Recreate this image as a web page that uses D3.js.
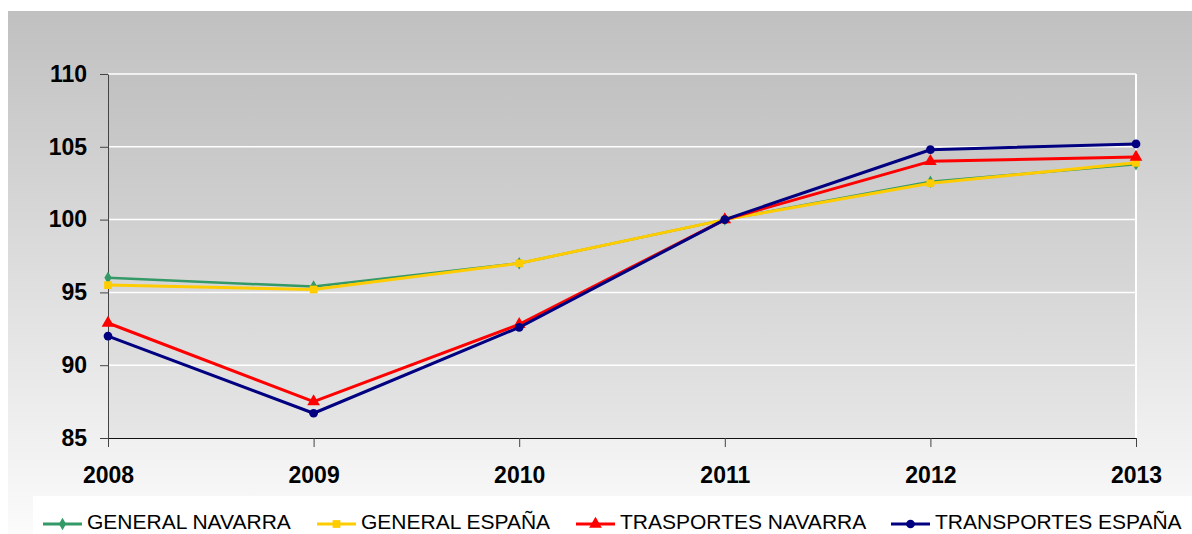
<!DOCTYPE html>
<html>
<head>
<meta charset="utf-8">
<script src="https://cdn.jsdelivr.net/npm/d3@7"></script>
<style>
  html, body { margin: 0; padding: 0; background: #fff; }
  svg { display: block; font-family: Arial, "Liberation Sans", sans-serif; }
</style>
</head>
<body>
<script>
// values
var years = ['2008', '2009', '2010', '2011', '2012', '2013'];
var yTicks = [85, 90, 95, 100, 105, 110];

var generalNavarra = [96.0, 95.4, 97.0, 100, 102.6, 103.8];
var generalEspana = [95.5, 95.2, 97.0, 100, 102.5, 103.9];
var trasportesNavarra = [92.9, 87.5, 92.8, 100, 104.0, 104.3];
var transportesEspana = [92.0, 86.7, 92.6, 100, 104.8, 105.2];

var seriesNames = ['GENERAL NAVARRA', 'GENERAL ESPAÑA', 'TRASPORTES NAVARRA', 'TRANSPORTES ESPAÑA'];

var series = [
  { name: seriesNames[0], values: generalNavarra, color: '#339966', width: 2.5, symbol: d3.symbolDiamond, size: 45 },
  { name: seriesNames[1], values: generalEspana, color: '#ffcc00', width: 3, symbol: d3.symbolSquare, size: 60 },
  { name: seriesNames[2], values: trasportesNavarra, color: '#ff0000', width: 3, symbol: d3.symbolTriangle, size: 70 },
  { name: seriesNames[3], values: transportesEspana, color: '#000080', width: 3, symbol: d3.symbolCircle, size: 60 }
];

var width = 1192, height = 534;
var plot = { left: 108, right: 1136, top: 74, bottom: 438 };

var svg = d3.select('body').append('svg')
  .attr('width', width)
  .attr('height', height);

var defs = svg.append('defs');
var outerGrad = defs.append('linearGradient').attr('id', 'outerGrad')
  .attr('x1', 0).attr('y1', 0).attr('x2', 0).attr('y2', 1);
outerGrad.append('stop').attr('offset', '0%').attr('stop-color', '#c0c0c0');
outerGrad.append('stop').attr('offset', '100%').attr('stop-color', '#fbfbfb');

var plotGrad = defs.append('linearGradient').attr('id', 'plotGrad')
  .attr('x1', 0).attr('y1', 0).attr('x2', 0).attr('y2', 1);
plotGrad.append('stop').attr('offset', '0%').attr('stop-color', '#c1c1c1');
plotGrad.append('stop').attr('offset', '100%').attr('stop-color', '#e6e6e6');

// chart background
svg.append('rect')
  .attr('x', 8).attr('y', 11)
  .attr('width', width - 8).attr('height', height - 11)
  .attr('fill', 'url(#outerGrad)');

// plot area
svg.append('rect')
  .attr('x', plot.left).attr('y', plot.top)
  .attr('width', plot.right - plot.left).attr('height', plot.bottom - plot.top)
  .attr('fill', 'url(#plotGrad)');

var x = d3.scalePoint()
  .domain(years)
  .range([plot.left, plot.right]);

var y = d3.scaleLinear()
  .domain([85, 110])
  .range([plot.bottom, plot.top]);

// gridlines
svg.append('g').selectAll('line')
  .data(yTicks.filter(function(d) { return d > 85; }))
  .enter().append('line')
  .attr('x1', plot.left).attr('x2', plot.right)
  .attr('y1', function(d) { return y(d); })
  .attr('y2', function(d) { return y(d); })
  .attr('stroke', '#ffffff')
  .attr('stroke-width', 1.5);

// right border of plot
svg.append('line')
  .attr('x1', plot.right).attr('x2', plot.right)
  .attr('y1', plot.top).attr('y2', plot.bottom)
  .attr('stroke', '#ffffff')
  .attr('stroke-width', 2);

// y axis
var yAxis = svg.append('g')
  .attr('transform', 'translate(' + plot.left + ',0)')
  .call(d3.axisLeft(y).tickValues(yTicks).tickSize(8).tickPadding(13).tickSizeOuter(0));
yAxis.select('.domain').attr('stroke', '#444');
yAxis.selectAll('.tick line').attr('stroke', '#444');
yAxis.selectAll('text')
  .attr('fill', '#000')
  .style('font-size', '23px')
  .style('font-weight', 'bold')
  .style('font-family', 'Arial, "Liberation Sans", sans-serif');

// x axis
var xAxis = svg.append('g')
  .attr('transform', 'translate(0,' + plot.bottom + ')')
  .call(d3.axisBottom(x).tickSize(9).tickPadding(20).tickSizeOuter(0));
xAxis.select('.domain').attr('stroke', '#111');
xAxis.selectAll('.tick line').attr('stroke', '#444');
xAxis.selectAll('text')
  .attr('fill', '#000')
  .style('font-size', '23px')
  .style('font-weight', 'bold')
  .style('font-family', 'Arial, "Liberation Sans", sans-serif');

// lines and markers
var line = d3.line()
  .x(function(d, i) { return x(years[i]); })
  .y(function(d) { return y(d); });

series.forEach(function(s) {
  var g = svg.append('g');
  g.append('path')
    .datum(s.values)
    .attr('d', line)
    .attr('fill', 'none')
    .attr('stroke', s.color)
    .attr('stroke-width', s.width)
    .attr('stroke-linejoin', 'round');
  g.selectAll('path.mark')
    .data(s.values)
    .enter().append('path')
    .attr('class', 'mark')
    .attr('d', d3.symbol().type(s.symbol).size(s.size))
    .attr('transform', function(d, i) {
      return 'translate(' + x(years[i]) + ',' + y(d) + ')';
    })
    .attr('fill', s.color);
});

// legend
svg.append('rect')
  .attr('x', 33).attr('y', 496)
  .attr('width', width - 33).attr('height', height - 496)
  .attr('fill', '#ffffff');

var legendX = [43, 317, 576, 891];
var legend = svg.append('g').selectAll('g')
  .data(series)
  .enter().append('g')
  .attr('transform', function(d, i) { return 'translate(' + legendX[i] + ',524)'; });

legend.append('line')
  .attr('x1', 0).attr('x2', 39)
  .attr('stroke', function(d) { return d.color; })
  .attr('stroke-width', 3);

legend.append('path')
  .attr('d', function(d) { return d3.symbol().type(d.symbol).size(d.size)(); })
  .attr('transform', 'translate(19.5,0)')
  .attr('fill', function(d) { return d.color; });

legend.append('text')
  .attr('x', 44)
  .attr('y', 5)
  .style('font-size', '21px')
  .attr('fill', '#000')
  .text(function(d) { return d.name; });
</script>
</body>
</html>
